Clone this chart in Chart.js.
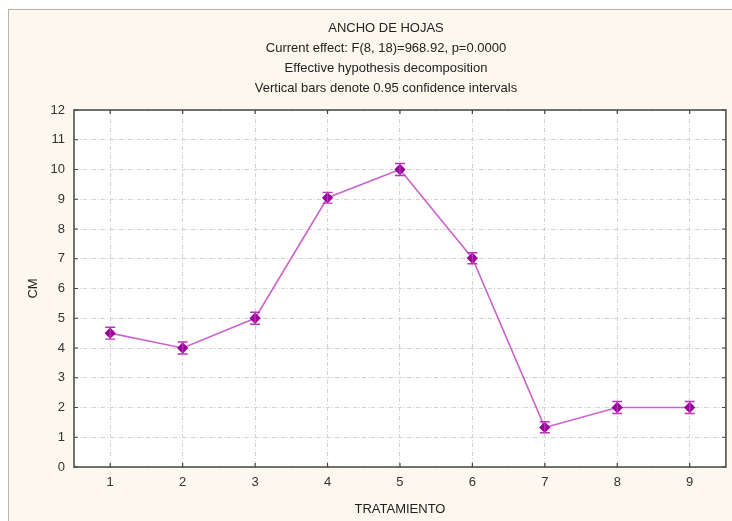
<!DOCTYPE html>
<html>
<head>
<meta charset="utf-8">
<script src="https://cdn.jsdelivr.net/npm/chart.js@4"></script>
<style>
  body { margin: 0; background: #fff; }
  #wrap { width: 732px; height: 521px; }
</style>
</head>
<body>
<div id="wrap"><canvas id="myChart" width="732" height="521"></canvas></div>
<script>
const categories = ['1', '2', '3', '4', '5', '6', '7', '8', '9'];
const means = [4.5, 4.0, 5.0, 9.05, 10.0, 7.02, 1.33, 2.0, 2.0];
const lower = [4.3, 3.8, 4.8, 8.87, 9.8, 6.83, 1.15, 1.8, 1.8];
const upper = [4.7, 4.2, 5.2, 9.23, 10.2, 7.2, 1.52, 2.2, 2.2];
const titleLines = [
    'ANCHO DE HOJAS',
    'Current effect: F(8, 18)=968.92, p=0.0000',
    'Effective hypothesis decomposition',
    'Vertical bars denote 0.95 confidence intervals'
];

const frame = {
    id: 'frame',
    beforeDraw(chart) {
        const c = chart.ctx;
        c.save();
        c.fillStyle = '#fff';
        c.fillRect(0, 0, chart.width, chart.height);
        c.fillStyle = '#fdf8ed';
        c.fillRect(8, 9, chart.width - 8, chart.height - 9);
        c.strokeStyle = '#b8b4aa';
        c.lineWidth = 1;
        c.strokeRect(8.5, 9.5, chart.width - 8, chart.height - 9);
        const a = chart.chartArea;
        c.fillStyle = '#fff';
        c.fillRect(a.left, a.top, a.right - a.left, a.bottom - a.top);
        // titles
        c.fillStyle = '#222';
        c.font = '13px "Liberation Sans", Arial, sans-serif';
        c.textAlign = 'center';
        c.textBaseline = 'middle';
        titleLines.forEach((t, i) => c.fillText(t, 386, 28 + i * 20.3));
        c.restore();
    },
    afterDatasetsDraw(chart) {
        const c = chart.ctx;
        const x = chart.scales.x, y = chart.scales.y;
        const a = chart.chartArea;
        c.save();
        // error bars
        c.strokeStyle = '#bb33bb';
        c.lineWidth = 1.4;
        for (let i = 0; i < means.length; i++) {
            const px = x.getPixelForValue(i);
            const y1 = y.getPixelForValue(lower[i]);
            const y2 = y.getPixelForValue(upper[i]);
            c.beginPath();
            c.moveTo(px, y1); c.lineTo(px, y2);
            c.moveTo(px - 5, y1); c.lineTo(px + 5, y1);
            c.moveTo(px - 5, y2); c.lineTo(px + 5, y2);
            c.stroke();
        }
        // plot frame + inward ticks
        c.strokeStyle = '#444';
        c.lineWidth = 1.5;
        c.strokeRect(a.left, a.top, a.right - a.left, a.bottom - a.top);
        c.lineWidth = 1.2;
        c.beginPath();
        for (let v = 0; v <= 12; v++) {
            const py = y.getPixelForValue(v);
            c.moveTo(a.left, py); c.lineTo(a.left + 4, py);
            c.moveTo(a.right, py); c.lineTo(a.right - 4, py);
        }
        for (let i = 0; i < categories.length; i++) {
            const px = x.getPixelForValue(i);
            c.moveTo(px, a.bottom); c.lineTo(px, a.bottom - 4);
            c.moveTo(px, a.top); c.lineTo(px, a.top + 4);
        }
        c.stroke();
        c.restore();
    }
};

const gridDash = [4, 2, 1, 2];
const ctx = document.getElementById('myChart');
let myChart = new Chart(ctx, {
    type: 'line',
    data: {
        labels: categories,
        datasets: [{
            data: means,
            borderColor: '#cc66cc',
            borderWidth: 1.6,
            pointStyle: 'rectRot',
            pointRadius: 4.5,
            pointBackgroundColor: '#990099',
            pointBorderColor: '#990099',
            tension: 0
        }]
    },
    options: {
        responsive: false,
        animation: false,
        devicePixelRatio: 1,
        layout: { padding: { top: 110, right: 5, left: 22, bottom: 0 } },
        plugins: {
            legend: { display: false },
            tooltip: { enabled: false }
        },
        scales: {
            x: {
                offset: true,
                afterFit(s) { s.height = 54; },
                grid: { color: '#d2d2d2', drawTicks: false, offset: false },
                border: { display: false, dash: gridDash },
                ticks: { color: '#333', font: { size: 13, family: '"Liberation Sans", Arial' }, padding: 8 },
                title: { display: true, text: 'TRATAMIENTO', color: '#222', font: { size: 13, family: '"Liberation Sans", Arial' }, padding: { top: 4 } }
            },
            y: {
                min: 0,
                max: 12,
                afterFit(s) { s.width = 52; },
                grid: { color: '#d2d2d2', drawTicks: false },
                border: { display: false, dash: gridDash },
                ticks: { stepSize: 1, color: '#333', font: { size: 13, family: '"Liberation Sans", Arial' }, padding: 9 },
                title: { display: true, text: 'CM', color: '#222', font: { size: 13, family: '"Liberation Sans", Arial' } }
            }
        }
    },
    plugins: [frame]
});
</script>
</body>
</html>
